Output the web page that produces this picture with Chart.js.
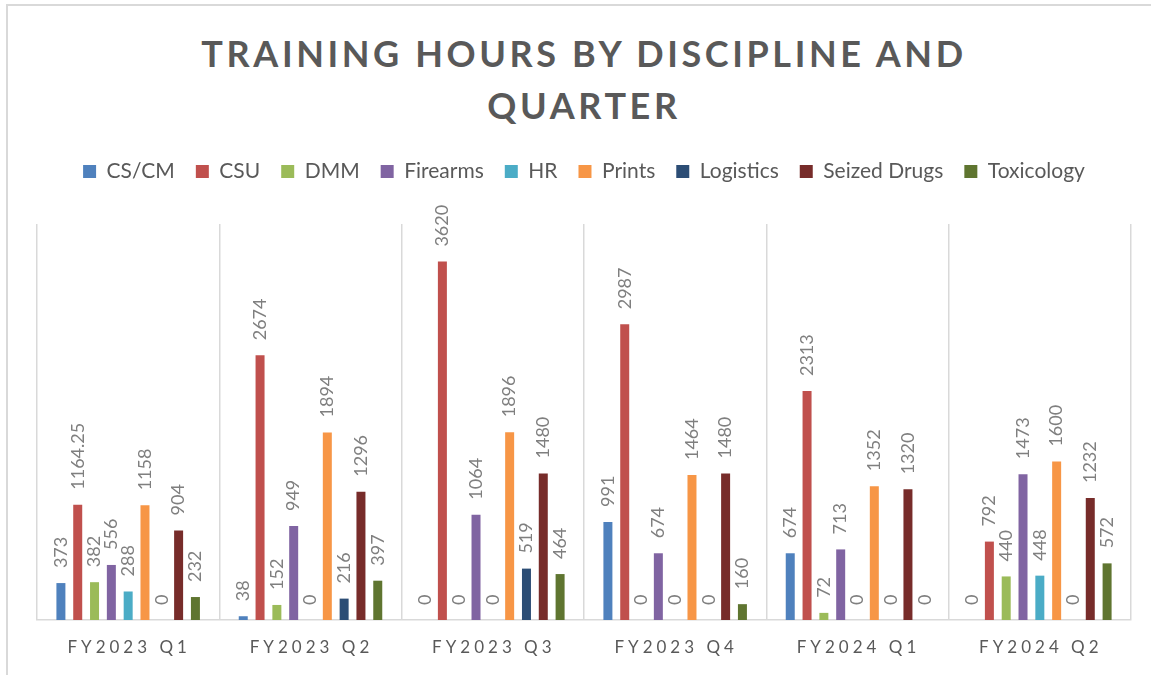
<!DOCTYPE html>
<html>
<head>
<meta charset="utf-8">
<script src="https://cdn.jsdelivr.net/npm/chart.js@4.4.1/dist/chart.umd.min.js"></script>
<style>
  html, body { margin: 0; padding: 0; background: #fff; }
  #wrap { position: relative; width: 1151px; height: 675px; overflow: hidden; }
  #frame { position: absolute; left: 6px; top: 4px; right: -10px; bottom: -10px;
           border-left: 2px solid #d9d9d9; border-top: 2px solid #d9d9d9; }
  #title { position: absolute; left: 0; top: 27px; width: 1168px; text-align: center;
           font: bold 36px Lato, sans-serif; letter-spacing: 3.6px; color: #595959;
           line-height: 52px; white-space: nowrap; }
  canvas { position: absolute; left: 0; top: 0; }
</style>
</head>
<body>
<div id="wrap">
  <div id="frame"></div>
  <div id="title">TRAINING HOURS BY DISCIPLINE AND<br>QUARTER</div>
  <canvas id="chart" width="1151" height="675"></canvas>
</div>
<script>
// quarters on the x axis
const quarters = ['FY2023 Q1', 'FY2023 Q2', 'FY2023 Q3', 'FY2023 Q4', 'FY2024 Q1', 'FY2024 Q2'];

// hours per discipline, one value per quarter
const csCm        = [373, 38, 0, 991, 674, 0];
const csu         = [1164.25, 2674, 3620, 2987, 2313, 792];
const dmm         = [382, 152, 0, 0, 72, 440];
const firearms    = [556, 949, 1064, 674, 713, 1473];
const hr          = [288, 0, 0, 0, 0, 448];
const prints      = [1158, 1894, 1896, 1464, 1352, 1600];
const logistics   = [0, 216, 519, 0, 0, 0];
const seizedDrugs = [904, 1296, 1480, 1480, 1320, 1232];
const toxicology  = [232, 397, 464, 160, 0, 572];

const series = [
  { label: 'CS/CM', data: csCm, color: '#4F81BD' },
  { label: 'CSU', data: csu, color: '#C0504D' },
  { label: 'DMM', data: dmm, color: '#9BBB59' },
  { label: 'Firearms', data: firearms, color: '#8064A2' },
  { label: 'HR', data: hr, color: '#4BACC6' },
  { label: 'Prints', data: prints, color: '#F79646' },
  { label: 'Logistics', data: logistics, color: '#2C4D75' },
  { label: 'Seized Drugs', data: seizedDrugs, color: '#772C2A' },
  { label: 'Toxicology', data: toxicology, color: '#5F7530' },
];

// empty box between legend and plot so the gridlines start lower
const legendGap = {
  id: 'legendGap',
  beforeInit(chart) {
    chart.boxes = chart.boxes || [];
    const box = {
      position: 'top', weight: 500, fullSize: true, options: {},
      width: 0, height: 0,
      isHorizontal() { return true; },
      update(maxWidth) { this.width = maxWidth; this.height = 32; },
      draw() {},
      _layers() { return [{ z: 0, draw() {} }]; }
    };
    chart.boxes.push(box);
  }
};

// rotated value labels above each bar
const valueLabels = {
  id: 'valueLabels',
  afterDatasetsDraw(chart) {
    const ctx = chart.ctx;
    ctx.save();
    ctx.font = '18px Lato, sans-serif';
    ctx.fillStyle = '#7f7f7f';
    ctx.textAlign = 'left';
    ctx.textBaseline = 'middle';
    chart.data.datasets.forEach((ds, i) => {
      chart.getDatasetMeta(i).data.forEach((bar, j) => {
        ctx.save();
        ctx.translate(bar.x, bar.y - 15);
        ctx.rotate(-Math.PI / 2);
        ctx.fillText(String(ds.data[j]), 0, 0);
        ctx.restore();
      });
    });
    ctx.restore();
  }
};

// category labels with letter spacing
const quarterLabels = {
  id: 'quarterLabels',
  afterDraw(chart) {
    const ctx = chart.ctx;
    const x = chart.scales.x;
    ctx.save();
    ctx.font = '17px Lato, sans-serif';
    ctx.fillStyle = '#595959';
    ctx.textAlign = 'center';
    ctx.textBaseline = 'middle';
    ctx.letterSpacing = '4px';
    quarters.forEach((q, i) => {
      ctx.fillText(q, x.getPixelForValue(i) + 1, chart.chartArea.bottom + 28);
    });
    ctx.restore();
  }
};

new Chart(document.getElementById('chart'), {
  type: 'bar',
  data: {
    labels: quarters,
    datasets: series.map(s => ({
      label: s.label,
      data: s.data,
      backgroundColor: s.color,
      borderWidth: 0,
      categoryPercentage: 0.83,
      barPercentage: 0.535
    }))
  },
  options: {
    responsive: false,
    animation: false,
    layout: { padding: { top: 140, left: 37, right: 20, bottom: 55 } },
    plugins: {
      legend: {
        position: 'top',
        labels: {
          font: { size: 21, family: 'Lato' },
          color: '#595959',
          boxWidth: 13,
          boxHeight: 13,
          padding: 21
        }
      },
      tooltip: { enabled: false }
    },
    scales: {
      x: {
        grid: { color: '#d9d9d9', lineWidth: 1.5, drawTicks: false, offset: true },
        border: { color: '#d9d9d9', width: 1.5 },
        ticks: { display: false }
      },
      y: { display: false, min: 0, max: 4000 }
    }
  },
  plugins: [legendGap, valueLabels, quarterLabels]
});
</script>
</body>
</html>
